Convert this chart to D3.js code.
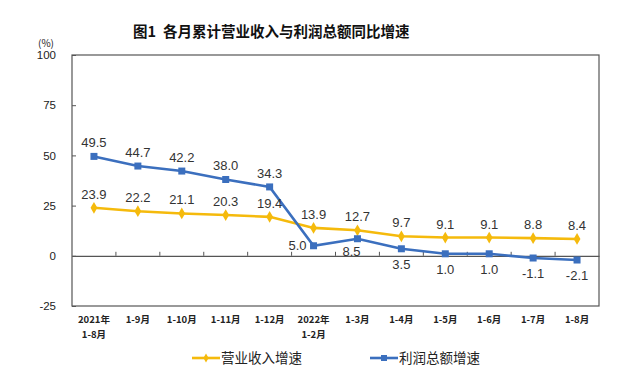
<!DOCTYPE html>
<html>
<head>
<meta charset="utf-8">
<script src="https://cdn.jsdelivr.net/npm/d3@7"></script>
<style>
  body { margin: 0; background: #fff; }
  svg { display: block; }
</style>
</head>
<body>
<div id="chart"></div>
<script>
const categories = [
  ["2021年", "1-8月"], ["1-9月"], ["1-10月"], ["1-11月"], ["1-12月"],
  ["2022年", "1-2月"], ["1-3月"], ["1-4月"], ["1-5月"], ["1-6月"], ["1-7月"], ["1-8月"]
];
const revenue = [23.9, 22.2, 21.1, 20.3, 19.4, 13.9, 12.7, 9.7, 9.1, 9.1, 8.8, 8.4];
const profit = [49.5, 44.7, 42.2, 38.0, 34.3, 5.0, 8.5, 3.5, 1.0, 1.0, -1.1, -2.1];
const yTicks = [-25, 0, 25, 50, 75, 100];
// where the profit label sits: above or below its point
const profitBelow = [false, false, false, false, false, true, true, true, true, true, true, true];

const width = 632, height = 389;
const marginLeft = 72, marginRight = 33, marginTop = 55, marginBottom = 83;

const svg = d3.select("#chart").append("svg")
  .attr("width", width).attr("height", height);

const x = d3.scaleBand()
  .domain(d3.range(categories.length))
  .range([marginLeft, width - marginRight]);
const y = d3.scaleLinear().domain([-25, 100]).range([height - marginBottom, marginTop]);

const cjk = "'Noto Sans CJK SC', sans-serif";
const fmt1 = d => d.toFixed(1);

// title
const title = svg.append("text")
  .attr("x", 133).attr("y", 37)
  .attr("font-family", cjk).attr("font-size", 14.5).attr("font-weight", "bold")
  .attr("fill", "#111");
title.append("tspan").text("图1");
title.append("tspan").attr("dx", 7).text("各月累计营业收入与利润总额同比增速");

svg.append("text")
  .attr("x", 46).attr("y", 47)
  .attr("text-anchor", "middle")
  .attr("font-family", cjk).attr("font-size", 10).attr("fill", "#222")
  .text("(%)");

// frame
svg.append("rect")
  .attr("x", marginLeft).attr("y", marginTop)
  .attr("width", width - marginLeft - marginRight)
  .attr("height", height - marginTop - marginBottom)
  .attr("fill", "none").attr("stroke", "#555").attr("stroke-width", 1.2);

// y axis
const gy = svg.append("g")
  .attr("transform", `translate(${marginLeft},0)`)
  .call(d3.axisRight(y).tickValues(yTicks).tickSize(4).tickFormat(d => String(d)));
gy.select(".domain").remove();
gy.selectAll("line").attr("stroke", "#555");
gy.selectAll("text")
  .attr("x", -16).attr("text-anchor", "end")
  .attr("font-family", "'Liberation Sans', Arial, sans-serif")
  .attr("font-size", 11.5).attr("fill", "#222");

// zero line with category ticks
const gx = svg.append("g")
  .attr("transform", `translate(0,${y(0)})`)
  .call(d3.axisTop(x).tickSize(0).tickFormat(""));
gx.select(".domain").attr("stroke", "#555").attr("stroke-width", 1.2);
gx.selectAll(".tick").remove();
gx.selectAll(".sep")
  .data(d3.range(1, categories.length))
  .join("line")
  .attr("x1", i => x(i)).attr("x2", i => x(i))
  .attr("y1", 0).attr("y2", -4)
  .attr("stroke", "#555");

// category labels
const catG = svg.append("g");
categories.forEach((lines, i) => {
  const t = catG.append("text")
    .attr("x", x(i) + x.bandwidth() / 2).attr("y", height - marginBottom + 17)
    .attr("text-anchor", "middle")
    .attr("font-family", cjk).attr("font-size", 9.5).attr("font-weight", "bold")
    .attr("fill", "#222");
  lines.forEach((s, k) => {
    t.append("tspan")
      .attr("x", x(i) + x.bandwidth() / 2)
      .attr("dy", k === 0 ? 0 : 15)
      .text(s);
  });
});

const cx = i => x(i) + x.bandwidth() / 2;
const line = d3.line().x((d, i) => cx(i)).y(d => y(d));

const yellow = "#F5BA0C", blue = "#3B6FBE";

svg.append("path").datum(revenue)
  .attr("d", line).attr("fill", "none")
  .attr("stroke", yellow).attr("stroke-width", 2.6);
svg.append("path").datum(profit)
  .attr("d", line).attr("fill", "none")
  .attr("stroke", blue).attr("stroke-width", 2.6);

svg.append("g").selectAll("path")
  .data(revenue).join("path")
  .attr("transform", (d, i) => `translate(${cx(i)},${y(d)})`)
  .attr("d", d3.symbol(d3.symbolDiamond, 40))
  .attr("fill", yellow);
svg.append("g").selectAll("rect")
  .data(profit).join("rect")
  .attr("x", (d, i) => cx(i) - 3.5).attr("y", d => y(d) - 3.5)
  .attr("width", 7).attr("height", 7)
  .attr("fill", blue);

const labelFont = "'Liberation Sans', Arial, sans-serif";
svg.append("g").selectAll("text")
  .data(revenue).join("text")
  .attr("x", (d, i) => cx(i)).attr("y", d => y(d) - 9)
  .attr("text-anchor", "middle")
  .attr("font-family", labelFont).attr("font-size", 13).attr("fill", "#333")
  .text(fmt1);

svg.append("g").selectAll("text")
  .data(profit).join("text")
  .attr("x", (d, i) => {
    if (i === 5) return cx(i) - 16;
    if (i === 6) return cx(i) - 6;
    return cx(i);
  })
  .attr("y", (d, i) => {
    if (i === 5) return y(d) + 4;
    if (i === 6) return y(d) + 17;
    return profitBelow[i] ? y(d) + 20 : y(d) - 9;
  })
  .attr("text-anchor", "middle")
  .attr("font-family", labelFont).attr("font-size", 13).attr("fill", "#333")
  .text(fmt1);

// legend
const legend = [
  { name: "营业收入增速", color: yellow, x: 192, shape: "diamond" },
  { name: "利润总额增速", color: blue, x: 370, shape: "square" }
];
const lg = svg.append("g");
legend.forEach(l => {
  const ly = 358;
  lg.append("line")
    .attr("x1", l.x).attr("x2", l.x + 28).attr("y1", ly).attr("y2", ly)
    .attr("stroke", l.color).attr("stroke-width", 2.6);
  if (l.shape === "diamond") {
    lg.append("path")
      .attr("transform", `translate(${l.x + 14},${ly})`)
      .attr("d", d3.symbol(d3.symbolDiamond, 24))
      .attr("fill", l.color);
  } else {
    lg.append("rect")
      .attr("x", l.x + 11).attr("y", ly - 3).attr("width", 6).attr("height", 6)
      .attr("fill", l.color);
  }
  lg.append("text")
    .attr("x", l.x + 29).attr("y", ly + 5)
    .attr("font-family", cjk).attr("font-size", 13.5).attr("fill", "#222")
    .text(l.name);
});
</script>
</body>
</html>
